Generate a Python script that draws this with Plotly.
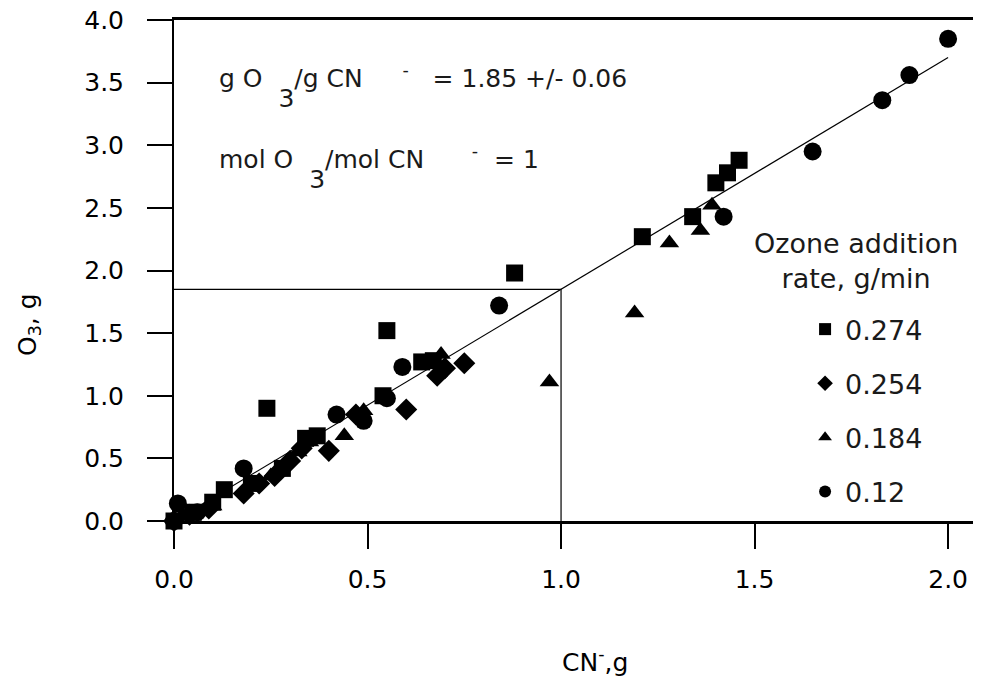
import plotly.graph_objects as go

# ---- data ----
sq_x = [0.0, 0.05, 0.10, 0.13, 0.20, 0.24, 0.28, 0.34, 0.37, 0.54, 0.55, 0.64, 0.67, 0.88, 1.21, 1.34, 1.40, 1.43, 1.46]
sq_y = [0.0, 0.07, 0.15, 0.25, 0.30, 0.90, 0.42, 0.66, 0.68, 1.00, 1.52, 1.27, 1.28, 1.98, 2.27, 2.43, 2.70, 2.78, 2.88]

di_x = [0.0, 0.04, 0.09, 0.18, 0.22, 0.26, 0.30, 0.33, 0.40, 0.47, 0.60, 0.68, 0.70, 0.75]
di_y = [0.0, 0.05, 0.10, 0.22, 0.30, 0.36, 0.48, 0.58, 0.56, 0.85, 0.89, 1.16, 1.22, 1.26]

tr_x = [0.02, 0.10, 0.25, 0.32, 0.35, 0.44, 0.49, 0.69, 0.97, 1.19, 1.28, 1.36, 1.39]
tr_y = [0.04, 0.12, 0.36, 0.55, 0.63, 0.68, 0.88, 1.33, 1.11, 1.66, 2.22, 2.32, 2.52]

ci_x = [0.0, 0.01, 0.06, 0.18, 0.42, 0.49, 0.55, 0.59, 0.84, 1.42, 1.65, 1.83, 1.90, 2.0]
ci_y = [0.0, 0.14, 0.07, 0.42, 0.85, 0.80, 0.98, 1.23, 1.72, 2.43, 2.95, 3.36, 3.56, 3.85]

series_names = ["0.274", "0.254", "0.184", "0.12"]
SLOPE = 1.85
fit_x = [0.0, 2.0]
ref_x = [0.0, 1.0, 1.0]
x_ticks = [0.0, 0.5, 1.0, 1.5, 2.0]
y_ticks = [0.0, 0.5, 1.0, 1.5, 2.0, 2.5, 3.0, 3.5, 4.0]

FONT = "DejaVu Sans, Arial, sans-serif"
TXT = "#1a1a1a"
NB = "\u00a0"

fig = go.Figure()

# reference guide lines at x = 1 g CN-
fig.add_trace(go.Scatter(x=ref_x, y=[SLOPE * 1.0, SLOPE * 1.0, 0.0], mode="lines",
                         line=dict(color="black", width=1.2), showlegend=False, hoverinfo="skip"))
# fit line
fig.add_trace(go.Scatter(x=fit_x, y=[SLOPE * v for v in fit_x], mode="lines",
                         line=dict(color="black", width=1.2), showlegend=False, hoverinfo="skip"))

specs = [(sq_x, sq_y, "square", 17), (di_x, di_y, "diamond", 17),
         (tr_x, tr_y, "triangle-up", 17), (ci_x, ci_y, "circle", 18)]
for (xs, ys, sym, sz), nm in zip(specs, series_names):
    fig.add_trace(go.Scatter(x=xs, y=ys, mode="markers", name=nm, legendgroup=nm,
                             marker=dict(symbol=sym, size=sz, color="black", line=dict(width=0)),
                             cliponaxis=False))

# the page body has an 8px margin, so the figure is sized to end at the window edge
fig.update_layout(
    width=973, height=677,
    margin=dict(l=166, r=0, t=12, b=164),
    paper_bgcolor="white", plot_bgcolor="white",
    font=dict(family=FONT, size=25, color="black"),
    showlegend=True,
    legend=dict(
        x=0.782, y=0.431, xanchor="left", yanchor="top",
        bgcolor="rgba(0,0,0,0)", borderwidth=0,
        font=dict(family=FONT, size=27, color=TXT),
        itemsizing="constant", tracegroupgap=16, itemwidth=30,
    ),
    xaxis=dict(range=[0, 2.085], tickvals=x_ticks, tickformat=".1f", automargin=False,
               showline=True, linecolor="black", linewidth=2.5, mirror=True,
               ticks="outside", ticklen=25, tickwidth=2, tickcolor="black",
               showgrid=False, zeroline=False, ticklabelstandoff=9, ticklabeloverflow="allow",
               tickfont=dict(family=FONT, size=25, color="black")),
    yaxis=dict(range=[0, 4.0], tickvals=y_ticks, tickformat=".1f", automargin=False,
               showline=True, linecolor="black", linewidth=2,
               ticks="outside", ticklen=25, tickwidth=2, tickcolor="black",
               showgrid=False, zeroline=False, ticklabelstandoff=18, ticklabeloverflow="allow",
               tickfont=dict(family=FONT, size=25, color="black")),
)

# axis titles
fig.add_annotation(x=(595 - 174) / 807, y=(521 - 660) / 501, xref="paper", yref="paper",
                   xanchor="center", yanchor="middle", showarrow=False,
                   font=dict(family=FONT, size=25, color="black"), text="CN<sup>-</sup>,g")
fig.add_annotation(x=(29 - 174) / 807, y=(521 - 325) / 501, xref="paper", yref="paper",
                   xanchor="center", yanchor="middle", showarrow=False, textangle=-90,
                   font=dict(family=FONT, size=25, color="black"), text="O<sub>3</sub>, g")

# legend title
fig.add_annotation(x=(856 - 174) / 807, y=(521 - 261) / 501, xref="paper", yref="paper",
                   xanchor="center", yanchor="middle", showarrow=False, align="center",
                   font=dict(family=FONT, size=27, color=TXT), text="Ozone addition<br>rate, g/min")

# in-plot statements
SUB3 = "<span style='baseline-shift:-20px'>3</span>"
fig.add_annotation(x=0.112, y=3.47, xref="x", yref="y", xanchor="left", yanchor="middle",
                   showarrow=False, font=dict(family=FONT, size=25, color=TXT),
                   text="g O" + NB * 2 + SUB3 + "/g CN" + NB * 5
                        + "<sup>-</sup>" + NB * 3 + "= 1.85 +/- 0.06")
fig.add_annotation(x=0.112, y=2.82, xref="x", yref="y", xanchor="left", yanchor="middle",
                   showarrow=False, font=dict(family=FONT, size=25, color=TXT),
                   text="mol O" + NB * 2 + SUB3 + "/mol CN" + NB * 6
                        + "<sup>-</sup>" + NB * 2 + "= 1")

fig.write_html("out.html")
